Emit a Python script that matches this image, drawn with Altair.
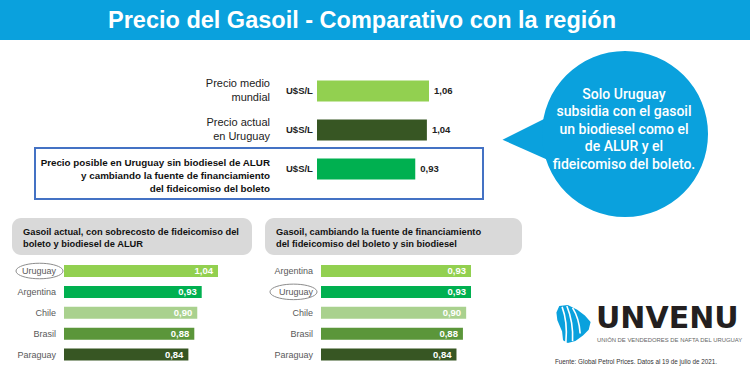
import math
import altair as alt
import pandas as pd

# ---------------- data ----------------
title = "Precio del Gasoil - Comparativo con la región"

top_keys = ["mundial", "actual", "posible"]
top_labels = [
    ["Precio medio", "mundial"],
    ["Precio actual", "en Uruguay"],
    ["Precio posible en Uruguay sin biodiesel de ALUR",
     "y cambiando la fuente de financiamiento",
     "del fideicomiso del boleto"],
]
top_values = [1.06, 1.04, 0.93]
top_colors = ["#92D050", "#375623", "#00B050"]
unit_label = "U$S/L"

left_title = ["Gasoil actual, con sobrecosto de fideicomiso del",
              "boleto y biodiesel de ALUR"]
left_countries = ["Uruguay", "Argentina", "Chile", "Brasil", "Paraguay"]
left_values = [1.04, 0.93, 0.90, 0.88, 0.84]

right_title = ["Gasoil, cambiando la fuente de financiamiento",
               "del fideicomiso del boleto y sin biodiesel"]
right_countries = ["Argentina", "Uruguay", "Chile", "Brasil", "Paraguay"]
right_values = [0.93, 0.93, 0.90, 0.88, 0.84]

row_colors = ["#92D050", "#00B050", "#A9D18E", "#5B963A", "#375623"]

bubble_lines = ["Solo Uruguay", "subsidia con el gasoil", "un biodiesel como el",
                "de ALUR y el", "fideicomiso del boleto."]
logo_name = "UNVENU"
logo_sub = "UNIÓN DE VENDEDORES DE NAFTA DEL URUGUAY"
source_note = "Fuente: Global Petrol Prices. Datos al 19 de julio de 2021."

# ---------------- styles ----------------
BLUE = "#0AA1DD"
SANS = "'Liberation Sans', Arial, sans-serif"


def fmt(v):
    return f"{v:.2f}".replace(".", ",")


dummy = pd.DataFrame({"_": [0]})


def ellipse_path(ry, n=40):
    pts = []
    for i in range(n):
        a = 2 * math.pi * i / n
        pts.append(f"{math.cos(a):.3f} {ry * math.sin(a):.3f}")
    return "M " + " L ".join(pts) + " Z"


layers = []

# banner
layers.append(alt.Chart(dummy).mark_rect(color=BLUE).encode(
    x=alt.value(0), x2=alt.value(750), y=alt.value(0), y2=alt.value(40)))
layers.append(alt.Chart(dummy).mark_text(
    font=SANS, fontWeight="bold", fontSize=23.5, color="white",
    align="center", baseline="middle").encode(
    x=alt.value(362), y=alt.value(21), text=alt.value(title)))

# ---------------- top chart ----------------
df_top = pd.DataFrame({"key": top_keys, "label": top_labels, "value": top_values,
                       "color": top_colors, "txt": [fmt(v) for v in top_values]})
xs_top = alt.Scale(domain=[0, 1.06], range=[317, 429], nice=False)
ys_top = alt.Scale(type="point", domain=top_keys, range=[91, 169], padding=0)
X_top = alt.X("value:Q", scale=xs_top, axis=None)
Y_top = alt.Y("key:N", scale=ys_top, axis=None)

# highlight box for third row
layers.append(alt.Chart(dummy).mark_rect(filled=False, stroke="#4472C4", strokeWidth=2).encode(
    x=alt.value(35), x2=alt.value(483), y=alt.value(148), y2=alt.value(199)))

base_top = alt.Chart(df_top)
layers.append(base_top.mark_bar(size=21).encode(
    x=X_top, y=Y_top, color=alt.Color("color:N", scale=None)))
layers.append(base_top.mark_text(align="left", dx=5, font=SANS, fontSize=9.5,
                                 fontWeight="bold", color="#222").encode(
    x=X_top, y=Y_top, text="txt:N"))
layers.append(base_top.mark_text(align="left", font=SANS, fontSize=9.5,
                                 fontWeight="bold", color="#222").encode(
    x=alt.value(286), y=Y_top, text=alt.value(unit_label)))
layers.append(base_top.mark_text(align="right", baseline="middle", font=SANS, fontSize=11,
                                 lineHeight=14, dy=-7, color="#222").encode(
    x=alt.value(270), y=Y_top, text="label:N").transform_filter(alt.datum.key != "posible"))
layers.append(base_top.mark_text(align="right", baseline="middle", font=SANS, fontSize=9.8,
                                 fontWeight="bold", lineHeight=13, dy=-6, color="#111").encode(
    x=alt.value(270), y=Y_top, text="label:N").transform_filter(alt.datum.key == "posible"))

# ---------------- callout bubble ----------------
layers.append(alt.Chart(dummy).mark_point(
    shape="M -0.9 0.05 L 0.9 -0.85 L 0.9 0.85 Z", filled=True, size=4900,
    color=BLUE, opacity=1, strokeWidth=0).encode(x=alt.value(534), y=alt.value(138)))
layers.append(alt.Chart(dummy).mark_point(
    shape="circle", filled=True, size=166 ** 2, color=BLUE, opacity=1,
    strokeWidth=0).encode(x=alt.value(625), y=alt.value(134)))
layers.append(alt.Chart(dummy).mark_text(
    font="Roboto", fontSize=14, fontWeight=500, color="white", align="center",
    baseline="middle", lineHeight=17.4).encode(
    x=alt.value(624), y=alt.value(95), text=alt.value(bubble_lines)))


# ---------------- bottom panels ----------------
def panel(countries, values, title_lines, box, xrange, domain_max, label_x, ell_x):
    df = pd.DataFrame({"country": countries, "value": values, "color": row_colors,
                       "txt": [fmt(v) for v in values]})
    xs = alt.Scale(domain=[0, domain_max], range=xrange, nice=False)
    ys = alt.Scale(type="point", domain=countries, range=[271, 354.5], padding=0)
    X = alt.X("value:Q", scale=xs, axis=None)
    Y = alt.Y("country:N", scale=ys, axis=None)
    out = []
    out.append(alt.Chart(dummy).mark_rect(color="#D9D9D9", cornerRadius=9).encode(
        x=alt.value(box[0]), x2=alt.value(box[1]), y=alt.value(218), y2=alt.value(255)))
    out.append(alt.Chart(dummy).mark_text(
        align="left", baseline="middle", font=SANS, fontSize=9.3, fontWeight="bold",
        lineHeight=12.5, color="#111").encode(
        x=alt.value(box[0] + 11), y=alt.value(231.5), text=alt.value(title_lines)))
    b = alt.Chart(df)
    out.append(b.mark_bar(size=12).encode(x=X, y=Y, color=alt.Color("color:N", scale=None)))
    out.append(b.mark_text(align="right", dx=-5, font=SANS, fontSize=9.5,
                           fontWeight="bold", color="white").encode(x=X, y=Y, text="txt:N"))
    out.append(b.mark_text(align="right", font=SANS, fontSize=9, color="#595959").encode(
        x=alt.value(label_x), y=Y, text="country:N"))
    out.append(b.mark_point(shape=ellipse_path(0.33), size=47 ** 2, filled=False,
                            color="#8C8C8C", strokeWidth=1, opacity=1).encode(
        x=alt.value(ell_x), y=Y).transform_filter(alt.datum.country == "Uruguay"))
    return out


layers += panel(left_countries, left_values, left_title, (12, 252), [64, 218], 1.04, 56, 39.5)
layers += panel(right_countries, right_values, right_title, (265, 522), [321, 471], 0.93, 313, 293.5)

# ---------------- logo & source ----------------
layers.append(alt.Chart(dummy).mark_point(
    shape=("M -0.75 -0.95 L -0.3 -1 L 0.2 -0.75 L 0.6 -0.45 L 0.9 -0.1 L 0.8 0.3 "
           "L 0.5 0.6 L 0.1 0.9 L -0.3 1 L -0.55 0.85 L -0.6 0.4 L -0.85 -0.2 L -0.9 -0.6 Z"),
    filled=True, size=38 ** 2, color=BLUE, opacity=1, strokeWidth=0).encode(
    x=alt.value(573.5), y=alt.value(324)))
layers.append(alt.Chart(dummy).mark_point(
    shape="M -0.6 -0.9 Q -0.3 -0.1 -0.4 0.95 M -0.35 -0.95 Q 0 -0.1 -0.05 0.9 M -0.05 -0.85 Q 0.3 -0.3 0.35 0.5",
    filled=False, size=38 ** 2, color="white", opacity=1, strokeWidth=1.6).encode(
    x=alt.value(573.5), y=alt.value(324)))
layers.append(alt.Chart(dummy).mark_text(
    align="left", baseline="alphabetic", font="'DejaVu Sans', sans-serif", fontSize=30,
    fontWeight="bold", color="#231F20").encode(
    x=alt.value(596), y=alt.value(328), text=alt.value(logo_name)))
layers.append(alt.Chart(dummy).mark_text(
    align="left", baseline="alphabetic", font=SANS, fontSize=5.9, color="#666").encode(
    x=alt.value(597), y=alt.value(342), text=alt.value(logo_sub)))
layers.append(alt.Chart(dummy).mark_text(
    align="left", baseline="middle", font=SANS, fontSize=6.3, color="#333").encode(
    x=alt.value(555), y=alt.value(362), text=alt.value(source_note)))

chart = alt.layer(*layers).resolve_scale(
    x="independent", y="independent", color="independent"
).properties(
    width=750, height=375, autosize=alt.AutoSizeParams(type="none"), padding=0,
    background="white"
).configure_view(stroke=None)

chart.save("out.html", embed_options={"renderer": "svg", "actions": False})
